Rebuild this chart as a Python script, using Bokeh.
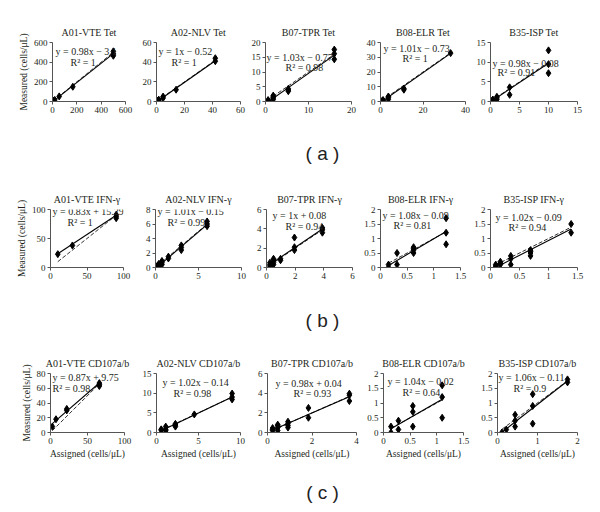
from bokeh.plotting import figure
from bokeh.layouts import column, row
from bokeh.models import Range1d, Label, FixedTicker
from bokeh.embed import file_html
from bokeh.resources import INLINE
from bokeh.core.properties import value

# ---------------- data ----------------
# Row (a): Tet
a_titles = ["A01-VTE Tet", "A02-NLV Tet", "B07-TPR Tet", "B08-ELR Tet", "B35-ISP Tet"]
a1_x = [2, 2, 6, 6, 18.5, 55, 167, 500, 500, 500]
a1_y = [1, 4, 5, 8, 16, 52, 150, 465, 485, 510]
a2_x = [0.5, 0.5, 1.6, 1.6, 4.7, 4.7, 14, 42, 42]
a2_y = [0.3, 0.8, 1.2, 1.8, 3.5, 5.0, 12, 41, 44]
a3_x = [0.6, 0.6, 1.8, 1.8, 1.8, 1.8, 5.3, 5.3, 5.3, 16, 16, 16]
a3_y = [0.2, 0.5, 0.7, 1.2, 1.6, 2.0, 3.5, 3.9, 4.3, 14.3, 16.2, 17.6]
a4_x = [0.4, 1.2, 1.2, 3.7, 3.7, 3.7, 11, 11, 33]
a4_y = [0.2, 0.6, 1.0, 1.5, 2.8, 3.4, 8.0, 8.8, 32.8]
a5_x = [0.1, 0.4, 0.4, 1.1, 1.1, 1.1, 3.3, 3.3, 10, 10, 10]
a5_y = [0.1, 0.3, 0.5, 0.5, 0.9, 1.2, 1.7, 3.6, 7.2, 9.5, 13]
a_slope = [0.98, 1, 1.03, 1.01, 0.98]
a_icpt = [-3.1, -0.52, -0.77, -0.73, -0.08]
a_eq = ["y = 0.98x − 3.1", "y = 1x − 0.52", "y = 1.03x − 0.77", "y = 1.01x − 0.73", "y = 0.98x − 0.08"]
a_r2 = ["R² = 1", "R² = 1", "R² = 0.98", "R² = 1", "R² = 0.91"]
a_xticks = [[0, 200, 400, 600], [0, 20, 40, 60], [0, 10, 20], [0, 20, 40], [0, 5, 10, 15]]
a_yticks = [[0, 200, 400, 600], [0, 20, 40, 60], [0, 5, 10, 15, 20], [0, 10, 20, 30, 40], [0, 5, 10, 15]]

# Row (b): IFN-γ
b_titles = ["A01-VTE IFN-γ", "A02-NLV IFN-γ", "B07-TPR IFN-γ", "B08-ELR IFN-γ", "B35-ISP IFN-γ"]
b1_x = [10, 30, 90, 90, 90]
b1_y = [23, 38, 85, 88, 91]
b2_x = [0.2, 0.2, 0.38, 0.38, 0.38, 0.75, 0.75, 0.75, 1.5, 1.5, 3, 3, 3, 6, 6, 6]
b2_y = [0.05, 0.2, 0.15, 0.35, 0.5, 0.4, 0.65, 0.9, 1.25, 1.5, 2.4, 2.75, 3.05, 5.7, 6.0, 6.35]
b3_x = [0.24, 0.24, 0.24, 0.49, 0.49, 0.49, 0.49, 0.98, 0.98, 1.95, 1.95, 1.95, 3.9, 3.9, 3.9]
b3_y = [0.15, 0.3, 0.5, 0.3, 0.5, 0.75, 0.9, 0.75, 0.9, 1.8, 2.1, 3.1, 3.6, 3.9, 4.1]
b4_x = [0.15, 0.15, 0.31, 0.31, 0.62, 0.62, 0.62, 0.62, 1.23, 1.23, 1.23]
b4_y = [0.0, 0.1, 0.1, 0.5, 0.5, 0.6, 0.65, 0.7, 0.8, 1.2, 1.7]
b5_x = [0.09, 0.09, 0.09, 0.17, 0.17, 0.17, 0.35, 0.35, 0.35, 0.69, 0.69, 0.69, 0.69, 1.39, 1.39]
b5_y = [0.0, 0.05, 0.1, 0.1, 0.15, 0.2, 0.1, 0.3, 0.4, 0.4, 0.5, 0.55, 0.6, 1.2, 1.5]
b_slope = [0.83, 1.01, 1, 1.08, 1.02]
b_icpt = [15.29, -0.15, 0.08, -0.09, -0.09]
b_eq = ["y = 0.83x + 15.29", "y = 1.01x − 0.15", "y = 1x + 0.08", "y = 1.08x − 0.09", "y = 1.02x − 0.09"]
b_r2 = ["R² = 1", "R² = 0.99", "R² = 0.94", "R² = 0.81", "R² = 0.94"]
b_xticks = [[0, 50, 100], [0, 5, 10], [0, 2, 4, 6], [0, 0.5, 1, 1.5], [0, 0.5, 1, 1.5]]
b_yticks = [[0, 50, 100], [0, 2, 4, 6, 8], [0, 2, 4, 6], [0, 0.5, 1, 1.5, 2], [0, 0.5, 1, 1.5, 2]]

# Row (c): CD107a/b
c_titles = ["A01-VTE CD107a/b", "A02-NLV CD107a/b", "B07-TPR CD107a/b", "B08-ELR CD107a/b", "B35-ISP CD107a/b"]
c1_x = [2.5, 7.4, 22, 22, 66, 66, 66]
c1_y = [8, 18, 30, 32, 63, 65, 67]
c2_x = [0.56, 0.56, 1.1, 1.1, 1.1, 2.25, 2.25, 2.25, 4.5, 9, 9, 9]
c2_y = [0.6, 0.8, 0.45, 0.8, 1.5, 1.5, 1.9, 2.2, 4.6, 8.4, 9, 9.9]
c3_x = [0.23, 0.23, 0.23, 0.46, 0.46, 0.46, 0.46, 0.92, 0.92, 0.92, 0.92, 1.84, 1.84, 3.68, 3.68, 3.68]
c3_y = [0.2, 0.3, 0.45, 0.2, 0.5, 0.7, 0.8, 0.5, 0.7, 0.9, 1.1, 1.5, 2.5, 3.2, 3.8, 3.95]
c4_x = [0.14, 0.14, 0.28, 0.28, 0.55, 0.55, 0.55, 1.1, 1.1, 1.1]
c4_y = [0, 0.2, 0.1, 0.4, 0.2, 0.7, 0.9, 0.5, 1.2, 1.6]
c5_x = [0.11, 0.22, 0.44, 0.44, 0.44, 0.88, 0.88, 0.88, 1.75, 1.75]
c5_y = [0, 0.1, 0.2, 0.4, 0.6, 0.3, 0.9, 1.3, 1.7, 1.8]
c_slope = [0.87, 1.02, 0.98, 1.04, 1.06]
c_icpt = [9.75, -0.14, 0.04, -0.02, -0.11]
c_eq = ["y = 0.87x + 9.75", "y = 1.02x − 0.14", "y = 0.98x + 0.04", "y = 1.04x − 0.02", "y = 1.06x − 0.11"]
c_r2 = ["R² = 0.98", "R² = 0.98", "R² = 0.93", "R² = 0.64", "R² = 0.9"]
c_xticks = [[0, 50, 100], [0, 5, 10], [0, 2, 4], [0, 0.5, 1, 1.5], [0, 1, 2]]
c_yticks = [[0, 20, 40, 60, 80], [0, 5, 10, 15], [0, 2, 4, 6], [0, 0.5, 1, 1.5, 2], [0, 0.5, 1, 1.5, 2]]

panel_labels = ["( a )", "( b )", "( c )"]
y_label = "Measured (cells/μL)"
x_label = "Assigned (cells/μL)"

# ---------------- layout / style (page pixel coordinates) ----------------
FONT = "Liberation Serif"
TXT = "#231f20"
AXC = "#555555"
col_left = [0, 135, 247, 360, 471]
col_right = [135, 247, 360, 471, 598]

rows_cfg = [
    dict(top=0, H=140, T=42, FH=59,
         frames=[(52, 125), (156, 240), (265, 351), (380, 465), (490, 577)],
         eqpos=[(55, 51, 70, 62), (158, 51, 171, 62), (266, 57, 285, 67), (383, 48, 402, 58), (492, 63, 497, 72)]),
    dict(top=166, H=140, T=43, FH=58,
         frames=[(50, 123), (155, 241), (266, 352), (380, 460), (490, 577)],
         eqpos=[(52, 211, 67, 222), (157, 211, 167, 222), (272, 215, 285, 226), (382, 215, 393, 225), (495, 217, 508, 227)]),
    dict(top=334, H=144, T=39, FH=59,
         frames=[(50, 124), (156, 240), (267, 356), (383, 463), (497, 577)],
         eqpos=[(52, 377, 52, 388), (162, 382, 173, 393), (275, 383, 293, 393), (387, 381, 402, 392), (498, 377, 513, 388)]),
]
label_cfg = [(26, 13), (28, 14), (32, 18)]
label_x = 322


def fmt(t):
    return "%g" % t


def panel(title, xs, ys, slope, icpt, eq1, eq2, xticks, yticks, ci, cfg, fi, show_y, show_x):
    fl, fr = cfg["frames"][fi]
    L = fl - col_left[ci]
    R = col_right[ci] - fr
    T = cfg["T"]
    FH = cfg["FH"]
    H = cfg["H"]
    B = H - T - FH
    FW = fr - fl
    xmax, ymax = xticks[-1], yticks[-1]
    p = figure(frame_width=FW, frame_height=FH, x_range=Range1d(0, xmax), y_range=Range1d(0, ymax),
               output_backend="svg", toolbar_location=None, title=title,
               min_border_left=L, min_border_right=R, min_border_top=T, min_border_bottom=B)
    p.title.align = "center"
    p.title.text_font = FONT
    p.title.text_font_size = "10px"
    p.title.text_font_style = "normal"
    p.title.text_color = TXT
    p.xgrid.visible = False
    p.ygrid.visible = False
    p.outline_line_color = None
    for ax, ticks in ((p.xaxis[0], xticks), (p.yaxis[0], yticks)):
        ax.ticker = FixedTicker(ticks=ticks)
        ax.major_label_overrides = {t: fmt(t) for t in ticks}
        ax.minor_tick_line_color = None
        ax.major_tick_in = 0
        ax.major_tick_out = 3
        ax.axis_line_color = AXC
        ax.major_tick_line_color = AXC
        ax.major_label_text_font = FONT
        ax.major_label_text_font_size = "9px"
        ax.major_label_text_color = TXT
        ax.major_label_standoff = 2
        ax.axis_label_text_font = FONT
        ax.axis_label_text_font_size = "9.5px"
        ax.axis_label_text_font_style = "normal"
        ax.axis_label_text_color = TXT
        ax.axis_label_standoff = 2
    if show_y:
        p.yaxis.axis_label = y_label
    if show_x:
        p.xaxis.axis_label = x_label
    lo, hi = min(xs), max(xs)
    p.line([lo, hi], [lo, hi], line_dash="4 2", line_color="#333333", line_width=1)
    p.line([lo, hi], [slope * lo + icpt, slope * hi + icpt], line_color="black", line_width=1.1)
    p.scatter(xs, ys, marker="diamond", size=7, fill_color="black", line_color="black")
    ftop = cfg["top"] + T
    fbot = ftop + FH
    x1, y1, x2, y2 = cfg["eqpos"][fi]
    for (tx, ty, txt) in ((x1, y1, eq1), (x2, y2, eq2)):
        p.add_layout(Label(x=(tx - fl) / FW * xmax, y=(fbot - ty) / FH * ymax, text=txt,
                           text_font=FONT, text_font_size="10px", text_color=TXT,
                           text_align="left", text_baseline="middle"))
    return p


def label_fig(txt, h, yc):
    p = figure(width=598, height=h, x_range=Range1d(0, 598), y_range=Range1d(0, h),
               x_axis_type=None, y_axis_type=None, output_backend="svg", toolbar_location=None,
               min_border=0)
    p.outline_line_color = None
    p.xgrid.visible = False
    p.ygrid.visible = False
    p.text(x=[label_x], y=[yc], text=[txt], text_font=value("Liberation Sans"),
           text_font_size="19px", text_align="center", text_baseline="middle", text_color="#222222")
    return p


groups = [
    (a_titles, [(a1_x, a1_y), (a2_x, a2_y), (a3_x, a3_y), (a4_x, a4_y), (a5_x, a5_y)],
     a_slope, a_icpt, a_eq, a_r2, a_xticks, a_yticks),
    (b_titles, [(b1_x, b1_y), (b2_x, b2_y), (b3_x, b3_y), (b4_x, b4_y), (b5_x, b5_y)],
     b_slope, b_icpt, b_eq, b_r2, b_xticks, b_yticks),
    (c_titles, [(c1_x, c1_y), (c2_x, c2_y), (c3_x, c3_y), (c4_x, c4_y), (c5_x, c5_y)],
     c_slope, c_icpt, c_eq, c_r2, c_xticks, c_yticks),
]

children = []
for gi, (titles, series, slopes, icpts, eqs, r2s, xts, yts) in enumerate(groups):
    figs = []
    for i in range(5):
        xs, ys = series[i]
        figs.append(panel(titles[i], xs, ys, slopes[i], icpts[i], eqs[i], r2s[i], xts[i], yts[i],
                          i, rows_cfg[gi], i, i == 0, gi == 2))
    children.append(row(*figs, spacing=0))
    h, yc = label_cfg[gi]
    children.append(label_fig(panel_labels[gi], h, yc))

layout = column(*children, spacing=0)
open("out.html", "w").write(file_html(layout, INLINE))
